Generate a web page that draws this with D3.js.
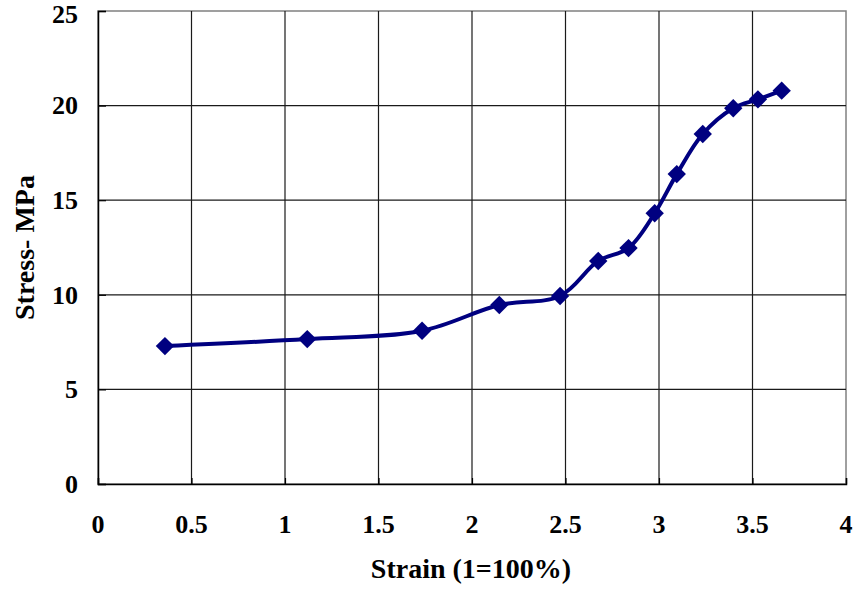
<!DOCTYPE html>
<html>
<head>
<meta charset="utf-8">
<script src="https://cdn.jsdelivr.net/npm/d3@7"></script>
<style>
  html, body { margin: 0; padding: 0; background: #fff; }
  svg { display: block; }
  text { font-family: "Liberation Serif", "Times New Roman", serif; font-weight: bold; fill: #000; }
</style>
</head>
<body>
<svg id="chart" width="853" height="590"></svg>
<script>
// ---- data ----
const strain = [0.358, 1.119, 1.733, 2.146, 2.471, 2.675, 2.837, 2.977, 3.095, 3.234, 3.397, 3.529, 3.656];
const stress = [7.29, 7.66, 8.10, 9.46, 9.94, 11.79, 12.47, 14.31, 16.38, 18.50, 19.86, 20.33, 20.79];
const xTicks = [0, 0.5, 1, 1.5, 2, 2.5, 3, 3.5, 4];
const yTicks = [0, 5, 10, 15, 20, 25];
const xTitle = "Strain (1=100%)";
const yTitle = "Stress- MPa";

// ---- layout ----
const svg = d3.select("#chart");
const pL = 98, pR = 846, pT = 11, pB = 484;

const x = d3.scaleLinear().domain([0, 4]).range([pL, pR]);
const y = d3.scaleLinear().domain([0, 25]).range([pB, pT]);

// plot frame (top/right gray)
svg.append("rect")
  .attr("x", pL).attr("y", pT)
  .attr("width", pR - pL).attr("height", pB - pT)
  .attr("fill", "none").attr("stroke", "#808080").attr("stroke-width", 1.5);

// gridlines
const grid = svg.append("g");
grid.selectAll("line.v").data(xTicks.slice(1, -1)).join("line")
  .attr("x1", d => x(d)).attr("x2", d => x(d))
  .attr("y1", pT).attr("y2", pB)
  .attr("stroke", "#1a1a1a").attr("stroke-width", 1.2);
grid.selectAll("line.h").data(yTicks.slice(1, -1)).join("line")
  .attr("x1", pL).attr("x2", pR)
  .attr("y1", d => y(d)).attr("y2", d => y(d))
  .attr("stroke", "#1a1a1a").attr("stroke-width", 1.2);

// axes (inside ticks, labels drawn separately)
const xAxis = d3.axisBottom(x).tickValues(xTicks).tickSize(-6).tickFormat("");
const yAxis = d3.axisLeft(y).tickValues(yTicks).tickSize(-8).tickFormat("");
const gx = svg.append("g").attr("transform", `translate(0,${pB})`).call(xAxis);
const gy = svg.append("g").attr("transform", `translate(${pL},0)`).call(yAxis);
[gx, gy].forEach(g => {
  g.selectAll("path.domain").attr("stroke", "#000").attr("stroke-width", 1.5);
  g.selectAll(".tick line").attr("stroke", "#000").attr("stroke-width", 1.2);
});

// tick labels
svg.append("g").selectAll("text").data(xTicks).join("text")
  .attr("x", d => x(d)).attr("y", 533)
  .attr("text-anchor", "middle")
  .style("font-size", "26px")
  .text(d => d3.format("")(d));
svg.append("g").selectAll("text").data(yTicks).join("text")
  .attr("x", 78).attr("y", d => Math.max(y(d), 14.5))
  .attr("dy", "0.34em")
  .attr("text-anchor", "end")
  .style("font-size", "26px")
  .text(d => d);

// axis titles
svg.append("text")
  .attr("x", (pL + pR) / 2 - 1).attr("y", 578)
  .attr("text-anchor", "middle")
  .style("font-size", "28px")
  .text(xTitle);
svg.append("text")
  .attr("transform", `translate(34,${(pT + pB) / 2}) rotate(-90)`)
  .attr("text-anchor", "middle")
  .style("font-size", "28px")
  .text(yTitle);

// series
const pts = strain.map((s, i) => [s, stress[i]]);
const line = d3.line()
  .x(d => x(d[0])).y(d => y(d[1]))
  .curve(d3.curveCatmullRom.alpha(0.5));
svg.append("path")
  .datum(pts)
  .attr("d", line)
  .attr("fill", "none")
  .attr("stroke", "#000080")
  .attr("stroke-width", 4)
  .attr("stroke-linejoin", "round");

const sym = d3.symbol().type(d3.symbolSquare).size(169);
svg.append("g").selectAll("path").data(pts).join("path")
  .attr("d", sym)
  .attr("transform", d => `translate(${x(d[0])},${y(d[1])}) rotate(45)`)
  .attr("fill", "#000080");
</script>
</body>
</html>
